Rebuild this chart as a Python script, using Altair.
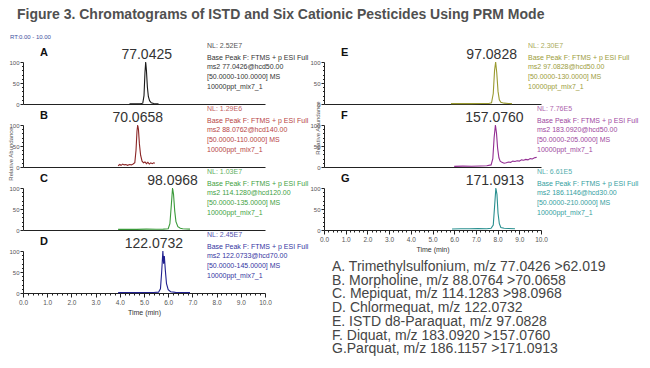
import altair as alt
import pandas as pd

FONT = "Liberation Sans"

# ---------------- data ----------------
title_text = "Figure 3. Chromatograms of ISTD and Six Cationic Pesticides Using PRM Mode"
rt_text = "RT:0.00 - 10.00"

a_time = [4.40, 4.55, 4.70, 4.85, 4.95, 5.00, 5.04, 5.07, 5.10, 5.14, 5.18, 5.23, 5.30, 5.40, 5.50, 5.60]
a_int = [0.3, 0.5, 0.4, 0.6, 2, 20, 75, 100, 80, 40, 18, 8, 3, 1, 0.6, 0.4]

b_time = [3.93, 4.00, 4.05, 4.12, 4.18, 4.25, 4.32, 4.40, 4.48, 4.55, 4.62, 4.67, 4.71, 4.74, 4.77,
          4.81, 4.86, 4.92, 4.98, 5.04, 5.10, 5.16, 5.22, 5.28, 5.34, 5.40, 5.45]
b_int = [3, 6, 4, 7, 5, 6, 4, 6, 5, 7, 10, 40, 85, 100, 90, 55, 28, 14, 10, 12, 8, 11, 7, 10, 8, 10, 9]

c_time = [3.93, 4.3, 4.7, 5.1, 5.5, 5.8, 6.0, 6.07, 6.13, 6.18, 6.22, 6.27, 6.32, 6.40, 6.5, 6.6, 6.75, 6.9]
c_int = [1.5, 1.8, 1.6, 2, 1.8, 2, 3, 15, 60, 100, 85, 45, 20, 8, 4, 3, 2.5, 2]

d_time = [3.93, 4.3, 4.7, 5.1, 5.4, 5.6, 5.68, 5.73, 5.78, 5.81, 5.84, 5.88, 5.93, 6.0, 6.1, 6.3, 6.6, 6.9]
d_int = [1, 1.2, 1, 1.2, 1.3, 2, 10, 50, 100, 70, 88, 55, 22, 8, 3, 1.5, 1.2, 1]

e_time = [5.85, 6.3, 6.8, 7.3, 7.6, 7.72, 7.8, 7.86, 7.91, 7.96, 8.02, 8.08, 8.15, 8.3, 8.5, 8.66]
e_int = [0.8, 1, 0.9, 1.1, 1.3, 3, 25, 80, 100, 75, 30, 10, 4, 2, 1.2, 1]

f_time = [6.0, 6.4, 6.8, 7.2, 7.5, 7.7, 7.78, 7.84, 7.9, 7.95, 8.0, 8.06, 8.12, 8.2, 8.3, 8.4, 8.5,
          8.6, 8.7, 8.8, 8.9, 9.0, 9.1, 9.2, 9.3, 9.4, 9.5, 9.6, 9.7, 9.8]
f_int = [1.5, 2, 1.8, 2.5, 3, 5, 20, 70, 100, 80, 45, 22, 14, 11, 9, 10, 12, 11, 14, 13, 15, 14,
         17, 16, 18, 17, 20, 19, 22, 23]

g_time = [5.9, 6.3, 6.7, 7.1, 7.5, 7.7, 7.8, 7.86, 7.92, 7.97, 8.02, 8.08, 8.15, 8.3, 8.5, 8.8]
g_int = [2.5, 3, 2.8, 3.2, 3, 4, 12, 55, 100, 85, 40, 15, 6, 4, 3.5, 3]

letters = ["A", "B", "C", "D", "E", "F", "G"]
peak_times = [5.07, 4.74, 6.18, 5.78, 7.91, 7.9, 7.92]
peak_labels = ["77.0425", "70.0658", "98.0968", "122.0732", "97.0828", "157.0760", "171.0913"]
nl_labels = ["NL: 2.52E7", "NL: 1.29E6", "NL: 1.03E7", "NL: 2.45E7", "NL: 2.30E7", "NL: 7.76E5", "NL: 6.61E5"]
ms2_labels = ["ms2 77.0426@hcd50.00", "ms2 88.0762@hcd140.00", "ms2 114.1280@hcd120.00",
              "ms2 122.0733@hcd70.00", "ms2 97.0828@hcd50.00", "ms2 183.0920@hcd50.00",
              "ms2 186.1146@hcd30.00"]
range_labels = ["[50.0000-100.0000]  MS", "[50.0000-110.0000]  MS", "[50.0000-135.0000]  MS",
                "[50.0000-145.0000]  MS", "[50.0000-130.0000]  MS", "[50.0000-205.0000]  MS",
                "[50.0000-210.0000]  MS"]
scan_label = "Base Peak F: FTMS + p ESI Full"
sample_label = "10000ppt_mix7_1"

legend_lines = [
    "A. Trimethylsulfonium, m/z 77.0426 >62.019",
    "B. Morpholine, m/z 88.0764 >70.0658",
    "C. Mepiquat, m/z 114.1283 >98.0968",
    "D. Chlormequat, m/z 122.0732",
    "E. ISTD d8-Paraquat, m/z 97.0828",
    "F. Diquat, m/z 183.0920 >157.0760",
    "G.Parquat, m/z 186.1157 >171.0913",
]

x_label = "Time (min)"
y_label = "Relative Abundance"

# ---------------- styling ----------------
times = [a_time, b_time, c_time, d_time, e_time, f_time, g_time]
ints = [a_int, b_int, c_int, d_int, e_int, f_int, g_int]
line_colors = ["#1a1a1a", "#8b2525", "#3a9a3a", "#20208f", "#9a9a30", "#932e93", "#2a9090"]
text_colors = ["#333333", "#b84545", "#3f9f3f", "#35359f", "#9c9c3c", "#a048a0", "#35a0a0"]
peak_dx = [1, 0, 0, -9, -4, -1, -1]
info_x = [184, 184, 184, 184, 204, 213, 213]

LW, RW, PH = 242, 217, 42
xs = alt.Scale(domain=[0, 10], nice=False, zero=False)
ys = alt.Scale(domain=[0, 100], nice=False)

yaxis = alt.Axis(
    values=list(range(0, 101, 10)), title=None, grid=False,
    labelExpr="datum.value % 50 === 0 ? datum.label : ''",
    labelFontSize=6, labelColor="#555555", labelFont=FONT, labelPadding=1,
    tickSize={"condition": {"test": "datum.value % 50 === 0", "value": 3}, "value": 1.5},
    tickColor="#222222", domainColor="#222222", labelOverlap=False,
)
xticks = [round(i * 0.2, 1) for i in range(51)]
xaxis_bottom = alt.Axis(
    values=xticks, title=x_label, grid=False, titleFontSize=7, titleFont=FONT,
    titleFontWeight="normal", titleColor="#333333", titlePadding=3,
    labelExpr="abs(datum.value - round(datum.value)) < 0.01 ? format(datum.value, '.1f') : ''",
    labelFontSize=6.5, labelColor="#555555", labelFont=FONT, labelPadding=2,
    labelFlush=False, labelOverlap=False,
    tickSize={"condition": {"test": "abs(datum.value - round(datum.value)) < 0.01", "value": 4},
              "value": 2},
    tickColor="#222222", domainColor="#222222",
)
xaxis_plain = alt.Axis(title=None, labels=False, ticks=False, grid=False, domainColor="#222222")


def panel(i, width, bottom, extra=None):
    xax = xaxis_bottom if bottom else xaxis_plain
    df = pd.DataFrame({"t": times[i], "v": ints[i]})
    line = alt.Chart(df).mark_line(color=line_colors[i], strokeWidth=1.1).encode(
        x=alt.X("t:Q", scale=xs, axis=xax),
        y=alt.Y("v:Q", scale=ys, axis=yaxis),
    )
    letter = alt.Chart(pd.DataFrame({"s": [letters[i]]})).mark_text(
        font=FONT, fontSize=11, fontWeight="bold", align="left", baseline="middle", color="#111111"
    ).encode(text="s:N", x=alt.value(17), y=alt.value(-9))
    peak = alt.Chart(pd.DataFrame({"t": [peak_times[i]], "s": [peak_labels[i]]})).mark_text(
        font=FONT, fontSize=14, align="center", baseline="middle", color="#333333", dx=peak_dx[i]
    ).encode(x=alt.X("t:Q", scale=xs, axis=xax), y=alt.value(-7), text="s:N")
    nl = alt.Chart(pd.DataFrame({"s": [nl_labels[i]]})).mark_text(
        font=FONT, fontSize=7, align="left", baseline="middle", color=text_colors[i], opacity=0.85
    ).encode(text="s:N", x=alt.value(info_x[i]), y=alt.value(-16))
    info = alt.Chart(pd.DataFrame({"s": ["\n".join([scan_label, ms2_labels[i], range_labels[i], sample_label])]})).mark_text(
        font=FONT, fontSize=7, align="left", baseline="top", color=text_colors[i], lineBreak="\n",
        lineHeight=9.7
    ).encode(text="s:N", x=alt.value(info_x[i]), y=alt.value(-8.5))
    layers = [line, letter, peak, nl, info]
    if extra:
        layers += extra
    return alt.layer(*layers).properties(width=width, height=PH)


# extras
anchor = alt.Chart(pd.DataFrame({"a": [0]})).mark_rect(opacity=0).encode(
    x=alt.value(-15), x2=alt.value(-14), y=alt.value(-54), y2=alt.value(-53))
title_mark = alt.Chart(pd.DataFrame({"s": [title_text]})).mark_text(
    font=FONT, fontSize=14, fontWeight="bold", align="left", baseline="top", color="#505050"
).encode(text="s:N", x=alt.value(-6), y=alt.value(-54))
rt_mark = alt.Chart(pd.DataFrame({"s": [rt_text]})).mark_text(
    font=FONT, fontSize=6, align="left", baseline="middle", color="#4050a0"
).encode(text="s:N", x=alt.value(-13), y=alt.value(-25))
yl_left = alt.Chart(pd.DataFrame({"s": [y_label]})).mark_text(
    font=FONT, fontSize=6, angle=270, align="center", baseline="middle", color="#555555"
).encode(text="s:N", x=alt.value(-12), y=alt.value(92))
yl_right = alt.Chart(pd.DataFrame({"s": [y_label]})).mark_text(
    font=FONT, fontSize=6, angle=270, align="center", baseline="middle", color="#555555"
).encode(text="s:N", x=alt.value(-6), y=alt.value(66))
legend_mark = alt.Chart(pd.DataFrame({"s": ["\n".join(legend_lines)]})).mark_text(
    font=FONT, fontSize=14, align="left", baseline="top", color="#454545", lineBreak="\n",
    lineHeight=13.7
).encode(text="s:N", x=alt.value(8), y=alt.value(72))

panels = [
    panel(0, LW, False, [anchor, title_mark, rt_mark, yl_left]),  # A
    panel(4, RW, False, [yl_right]),                               # E
    panel(1, LW, False),                                           # B
    panel(5, RW, False),                                           # F
    panel(2, LW, False),                                           # C
    panel(6, RW, True, [legend_mark]),                             # G
    panel(3, LW, True),                                            # D
]

chart = alt.concat(
    *panels, columns=2, spacing={"row": 21, "column": 59}, bounds="flush", align="each"
).properties(padding=0, background="white").configure_view(stroke=None).configure_axis(grid=False)

chart.save("out.html", embed_options={"renderer": "svg", "actions": False})
